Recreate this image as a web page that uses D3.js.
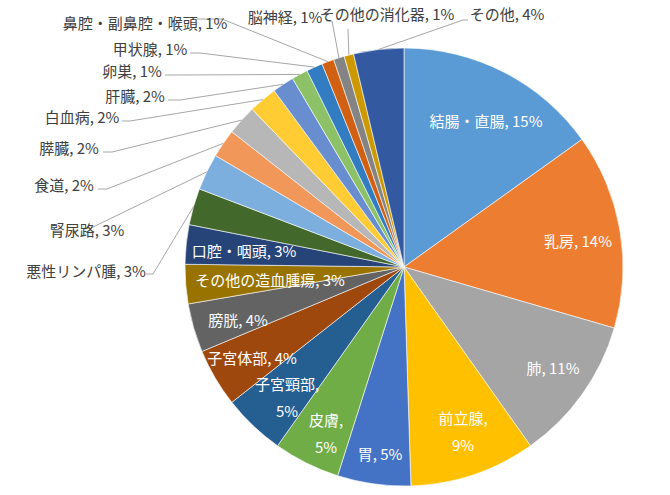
<!DOCTYPE html>
<html>
<head>
<meta charset="utf-8">
<script src="https://cdn.jsdelivr.net/npm/d3@7"></script>
<style>
  body { margin: 0; background: #fff; }
  svg { font-family: "Noto Sans CJK JP", "Noto Sans", sans-serif; }
</style>
</head>
<body>
<svg id="chart"></svg>
<script>
// 部位別の割合（%）、時計回り
var organs = ["結腸・直腸", "乳房", "肺", "前立腺", "胃", "皮膚", "子宮頸部", "子宮体部",
  "膀胱", "その他の造血腫瘍", "口腔・咽頭", "悪性リンパ腫", "腎尿路", "食道", "膵臓",
  "白血病", "肝臓", "卵巣", "甲状腺", "鼻腔・副鼻腔・喉頭", "脳神経", "その他の消化器", "その他"]
var shares = [15.1, 14.4, 10.7, 9.3, 5.4, 4.9, 4.6, 4.3,
  3.6, 2.9, 2.9, 2.7, 2.7, 2.1, 2.2,
  2.1, 1.6, 1.2, 1.2, 0.9, 0.8, 0.7, 3.7]

var sliceColors = ["#5B9BD5", "#ED7D31", "#A5A5A5", "#FFC000", "#4472C4", "#70AD47",
  "#255E91", "#9E480E", "#636363", "#997300", "#264478", "#43682B", "#7CAFDD",
  "#F1975A", "#B7B7B7", "#FFCD33", "#698ED0", "#8CC168", "#327DC2", "#D26012",
  "#848484", "#CC9A00", "#335AA1"]

// ラベル配置（中心 x, y）。inside=true は扇形の中に白文字
var labelLayout = [
  {x: 486, y: 120, inside: true},
  {x: 578, y: 240, inside: true},
  {x: 553, y: 367, inside: true},
  {x: 463, y: 417, inside: true, wrap: true},
  {x: 380, y: 453, inside: true},
  {x: 326, y: 419, inside: true, wrap: true},
  {x: 287, y: 383, inside: true, wrap: true},
  {x: 252, y: 357, inside: true},
  {x: 238, y: 319, inside: true},
  {x: 270, y: 279, inside: true},
  {x: 244, y: 250, inside: true},
  {x: 86, y: 270, line: [[146, 274], [153, 274]]},
  {x: 87, y: 229, line: [[91, 228], [91, 228]]},
  {x: 64, y: 184, line: [[98, 189], [107, 189]]},
  {x: 69, y: 147, line: [[103, 152], [112, 152]]},
  {x: 82, y: 116, line: [[122, 121], [130, 121]]},
  {x: 135, y: 95, line: [[168, 100], [180, 100]]},
  {x: 132, y: 70, line: [[165, 75], [175, 75]]},
  {x: 150, y: 48, line: [[190, 53], [200, 53]]},
  {x: 145, y: 22, line: [[197, 19], [222, 19]]},
  {x: 285, y: 16, line: [[326, 21], [332, 21]]},
  {x: 387, y: 13, line: [[348, 29], [348, 29]]},
  {x: 507, y: 13, line: [[468, 20], [463, 20]]}
]

var dimensions = { width: 670, height: 495, cx: 404, cy: 267, radius: 219 }

var svg = d3.select("#chart")
  .attr("width", dimensions.width)
  .attr("height", dimensions.height)

var pie = d3.pie().sort(null).value(function(d) { return d })
var arcs = pie(shares)

var arc = d3.arc().innerRadius(0).outerRadius(dimensions.radius)
var edge = d3.arc().innerRadius(dimensions.radius).outerRadius(dimensions.radius)

var g = svg.append("g")
  .attr("transform", "translate(" + dimensions.cx + "," + dimensions.cy + ")")

g.selectAll("path")
  .data(arcs)
  .enter()
  .append("path")
    .attr("d", arc)
    .attr("fill", function(d, i) { return sliceColors[i] })
    .attr("stroke", "#fff")
    .attr("stroke-width", 0.6)

// leader lines
var line = d3.line()
arcs.forEach(function(d, i) {
  var lay = labelLayout[i]
  if (lay.inside) return
  var end = edge.centroid(d)
  var pts = lay.line.map(function(p) { return [p[0] - dimensions.cx, p[1] - dimensions.cy] })
  pts.push(end)
  g.append("path")
    .attr("d", line(pts))
    .attr("fill", "none")
    .attr("stroke", "#A6A6A6")
    .attr("stroke-width", 1)
})

// labels
var labels = svg.append("g").style("font-size", "15px")
arcs.forEach(function(d, i) {
  var lay = labelLayout[i]
  var pct = Math.round(shares[i]) + "%"
  var t = labels.append("text")
    .attr("x", lay.x)
    .attr("y", lay.y)
    .attr("text-anchor", "middle")
    .attr("dominant-baseline", "central")
    .attr("fill", lay.inside ? "#fff" : "#404040")
  if (lay.wrap) {
    t.append("tspan").attr("x", lay.x).attr("y", lay.y).text(organs[i] + ",")
    t.append("tspan").attr("x", lay.x).attr("y", lay.y + 27).text(pct)
  } else {
    t.text(organs[i] + ", " + pct)
  }
})
</script>
</body>
</html>
